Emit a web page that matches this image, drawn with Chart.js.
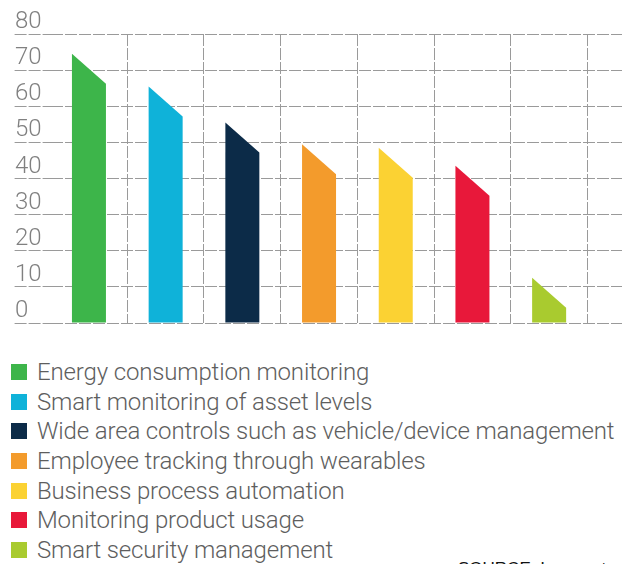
<!DOCTYPE html>
<html>
<head>
<meta charset="utf-8">
<script src="https://cdn.jsdelivr.net/npm/chart.js@4.4.1/dist/chart.umd.min.js"></script>
<style>
  html, body { margin: 0; padding: 0; background: #fff; }
  body { width: 628px; height: 564px; position: relative; overflow: hidden; }
  #wrap { position: absolute; left: 0; top: 0; width: 628px; height: 340px; }
  #legend { position: absolute; left: 11px; top: 357px; font-family: Roboto, "Open Sans", sans-serif; font-weight: 300; font-size: 24px; letter-spacing: -0.15px; color: #5e5e5e; }
  .row { display: flex; align-items: center; height: 29.7px; white-space: nowrap; }
  .sw { width: 16px; height: 16px; margin-right: 10px; flex: none; }
  #source { position: absolute; left: 458px; top: 560px; font-family: "Liberation Sans", Arial, sans-serif; font-size: 17px; line-height: 17px; color: #111; white-space: nowrap; }
</style>
</head>
<body>
<div id="wrap"><canvas id="c" width="628" height="340"></canvas></div>
<div id="legend"></div>
<div id="source">SOURCE: Inmarsat</div>
<script>
const categories = [
  "Energy consumption monitoring",
  "Smart monitoring of asset levels",
  "Wide area controls such as vehicle/device management",
  "Employee tracking through wearables",
  "Business process automation",
  "Monitoring product usage",
  "Smart security management"
];
const values = [74.5, 65.5, 55.5, 49.5, 48.5, 43.5, 12.5];
const colors = ["#3db54a", "#0fb2d9", "#0c2b48", "#f39b2c", "#fbd233", "#e8183a", "#a9cb2f"];
const yTicks = [0, 10, 20, 30, 40, 50, 60, 70, 80];

const SLANT = 30;          // px drop of the cut top
const GRID = "#9a9a9a";
const DASH = [12, 2];

const points = values.map((v, i) => ({ x: i + 0.5, y: v }));

const slantBars = {
  id: "slantBars",
  beforeDatasetDraw(chart, args) {
    const ctx = chart.ctx;
    ctx.save();
    args.meta.data.forEach((el, i) => {
      const p = el.getProps(["x", "y", "base", "width"], true);
      const l = p.x - p.width / 2, r = p.x + p.width / 2;
      ctx.fillStyle = colors[i];
      ctx.beginPath();
      ctx.moveTo(l, p.base);
      ctx.lineTo(l, p.y);
      ctx.lineTo(r, Math.min(p.y + SLANT, p.base));
      ctx.lineTo(r, p.base);
      ctx.closePath();
      ctx.fill();
    });
    ctx.restore();
    return false;
  }
};

new Chart(document.getElementById("c"), {
  type: "bar",
  data: {
    datasets: [{
      data: points,
      backgroundColor: colors,
      barThickness: 34
    }]
  },
  options: {
    responsive: false,
    animation: false,
    devicePixelRatio: 1,
    layout: { padding: { left: 15, right: 6, top: 34, bottom: 17 } },
    plugins: { legend: { display: false }, tooltip: { enabled: false } },
    scales: {
      x: {
        type: "linear",
        offset: false,
        min: 0,
        max: 7.45,
        ticks: { display: false, stepSize: 1, includeBounds: false },
        grid: {
          offset: false,
          drawTicks: false,
          color: c => (c.tick && c.tick.value === 0) ? "rgba(0,0,0,0)" : GRID,
          lineWidth: 1
        },
        border: { display: false, dash: DASH }
      },
      y: {
        min: 0,
        max: 80,
        afterBuildTicks: s => { s.ticks = yTicks.map(v => ({ value: v })); },
        afterFit: s => { s.width = 35.6; },
        ticks: {
          crossAlign: "far",
          labelOffset: -12,
          padding: 0,
          color: "#808080",
          font: { family: "Roboto", size: 24, weight: 300 }
        },
        grid: {
          color: GRID,
          lineWidth: 1,
          tickLength: 36,
          tickBorderDash: DASH
        },
        border: { display: false, dash: DASH }
      }
    }
  },
  plugins: [slantBars]
});

const legend = document.getElementById("legend");
categories.forEach((name, i) => {
  const row = document.createElement("div");
  row.className = "row";
  const sw = document.createElement("span");
  sw.className = "sw";
  sw.style.background = colors[i];
  const t = document.createElement("span");
  t.textContent = name;
  row.appendChild(sw);
  row.appendChild(t);
  legend.appendChild(row);
});
</script>
</body>
</html>
